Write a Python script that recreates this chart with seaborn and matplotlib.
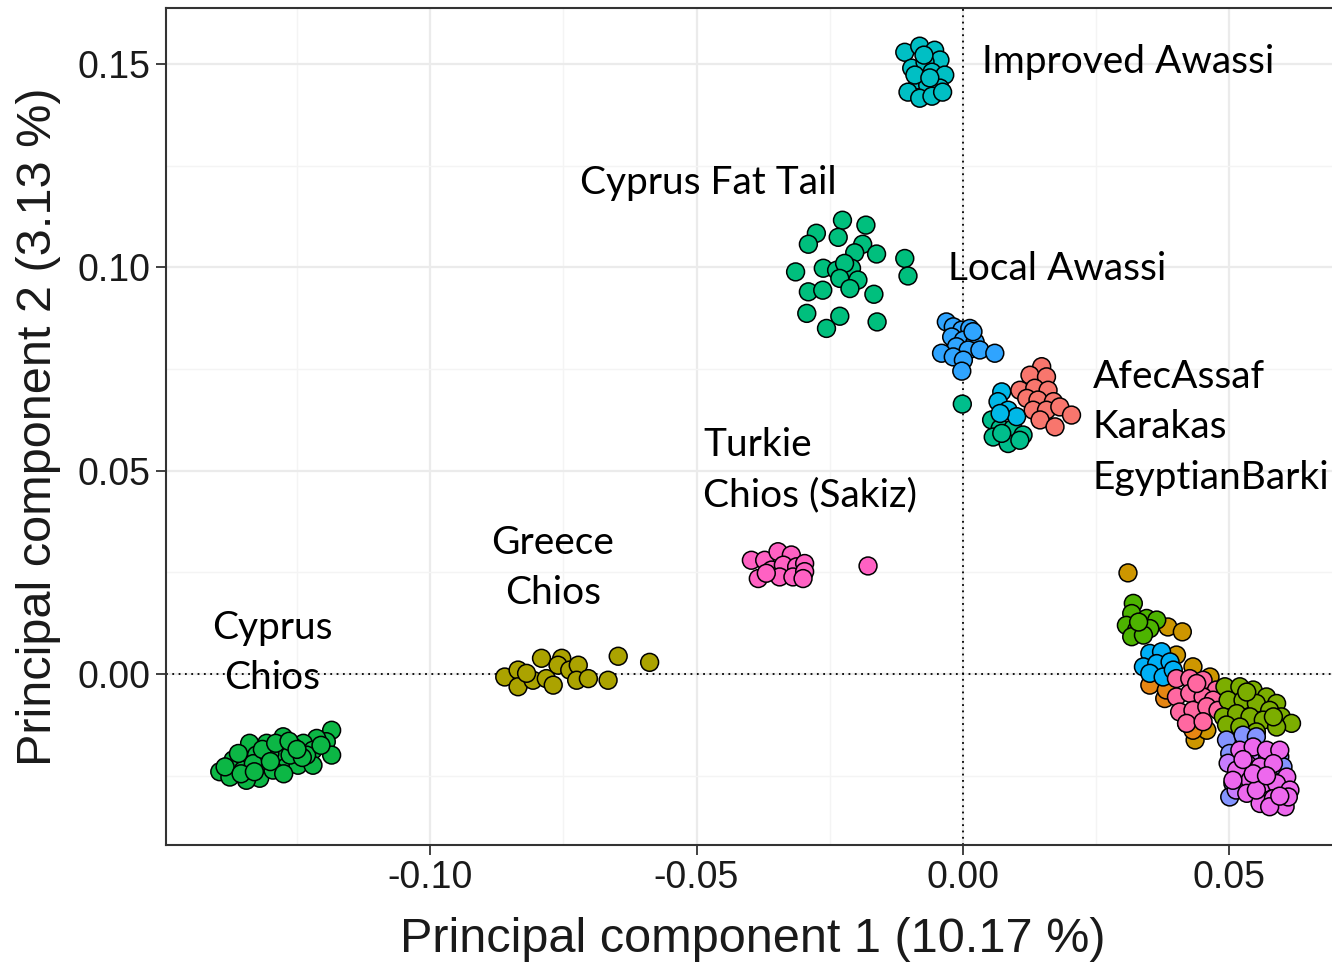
import numpy as np
import pandas as pd
import seaborn as sns
import matplotlib.pyplot as plt
from matplotlib.ticker import MultipleLocator


### PCA coordinates per population
improved_awassi_pc1 = [-0.0109, -0.0081, -0.0053, -0.0043, -0.0096, -0.0071, -0.0058, -0.0034, -0.0085,
                       -0.0066, -0.0043, -0.0103, -0.0081, -0.0058, -0.0038, -0.0090, -0.0062, -0.0073]
improved_awassi_pc2 = [0.1529, 0.1544, 0.1534, 0.1510, 0.1490, 0.1505, 0.1480, 0.1473, 0.1461,
                       0.1448, 0.1441, 0.1431, 0.1416, 0.1421, 0.1431, 0.1473, 0.1466, 0.1522]

fat_tail_pc1 = [-0.0226, -0.0182, -0.0275, -0.0290, -0.0234, -0.0188, -0.0162, -0.0203, -0.0109,
                -0.0103, -0.0314, -0.0262, -0.0237, -0.0209, -0.0222, -0.0231, -0.0197, -0.0212,
                -0.0290, -0.0263, -0.0167, -0.0293, -0.0231, -0.0256, -0.0161]
fat_tail_pc2 = [0.1116, 0.1104, 0.1084, 0.1057, 0.1074, 0.1057, 0.1033, 0.1036, 0.1022,
                0.0979, 0.0989, 0.0998, 0.0993, 0.0998, 0.1010, 0.0973, 0.0969, 0.0948,
                0.0940, 0.0944, 0.0934, 0.0887, 0.0880, 0.0850, 0.0866]

local_awassi_pc1 = [-0.0031, -0.0018, -0.0002, 0.0013, -0.0021, 0.0001, 0.0023, 0.0019,
                    -0.0012, 0.0010, 0.0032, 0.0060, -0.0040, -0.0018, 0.0001, -0.0002]
local_awassi_pc2 = [0.0866, 0.0854, 0.0846, 0.0850, 0.0829, 0.0821, 0.0817, 0.0842,
                    0.0805, 0.0797, 0.0797, 0.0789, 0.0789, 0.0780, 0.0772, 0.0745]

afec_pc1 = [0.0148, 0.0126, 0.0157, 0.0107, 0.0135, 0.0160, 0.0120, 0.0141, 0.0170,
            0.0132, 0.0157, 0.0182, 0.0204, 0.0145, 0.0173]
afec_pc2 = [0.0756, 0.0735, 0.0731, 0.0698, 0.0703, 0.0698, 0.0678, 0.0674, 0.0670,
            0.0649, 0.0649, 0.0657, 0.0637, 0.0625, 0.0608]

karakas_pc1 = [0.0073, 0.0066, 0.0085, 0.0101, 0.0070]
karakas_pc2 = [0.0694, 0.0670, 0.0649, 0.0633, 0.0641]

barki_pc1 = [0.0054, 0.0070, 0.0094, 0.0113, 0.0057, 0.0085, 0.0107, 0.0073, -0.0001]
barki_pc2 = [0.0625, 0.0604, 0.0604, 0.0588, 0.0583, 0.0567, 0.0575, 0.0592, 0.0664]

turkie_pc1 = [-0.0397, -0.0372, -0.0347, -0.0322, -0.0384, -0.0359, -0.0337, -0.0312,
              -0.0297, -0.0344, -0.0319, -0.0297, -0.0300, -0.0369, -0.0178]
turkie_pc2 = [0.0280, 0.0280, 0.0301, 0.0293, 0.0235, 0.0256, 0.0268, 0.0264,
              0.0272, 0.0239, 0.0239, 0.0252, 0.0235, 0.0248, 0.0266]

greece_pc1 = [-0.0860, -0.0835, -0.0835, -0.0791, -0.0807, -0.0782, -0.0753, -0.0760, -0.0769,
              -0.0738, -0.0722, -0.0725, -0.0703, -0.0666, -0.0647, -0.0588, -0.0819]
greece_pc2 = [-0.0007, 0.0010, -0.0031, 0.0039, -0.0015, -0.0011, 0.0039, 0.0022, -0.0027,
              0.0010, 0.0022, -0.0015, -0.0011, -0.0015, 0.0044, 0.0029, 0.0002]

cyprus_chios_pc1 = [-0.1185, -0.1195, -0.1185, -0.1213, -0.1238, -0.1220, -0.1276, -0.1257,
                    -0.1288, -0.1307, -0.1339, -0.1326, -0.1307, -0.1282, -0.1270, -0.1248,
                    -0.1220, -0.1370, -0.1395, -0.1376, -0.1351, -0.1332, -0.1320, -0.1295,
                    -0.1345, -0.1385, -0.1360, -0.1263, -0.1232, -0.1301,
                    -0.1315, -0.1290, -0.1265, -0.1240, -0.1355, -0.1330, -0.1300, -0.1250,
                    -0.1205, -0.1275]
cyprus_chios_pc2 = [-0.0138, -0.0166, -0.0199, -0.0158, -0.0170, -0.0187, -0.0154, -0.0179,
                    -0.0187, -0.0170, -0.0170, -0.0199, -0.0216, -0.0203, -0.0228, -0.0224,
                    -0.0224, -0.0211, -0.0240, -0.0253, -0.0236, -0.0220, -0.0256, -0.0236,
                    -0.0261, -0.0228, -0.0195, -0.0199, -0.0199, -0.0195,
                    -0.0185, -0.0170, -0.0165, -0.0205, -0.0245, -0.0240, -0.0215, -0.0185,
                    -0.0175, -0.0245]

# breeds crowded in the lower right corner
gold_pc1 = [0.0310, 0.0385, 0.0412, 0.0401, 0.0432, 0.0464, 0.0436, 0.0458, 0.0420]
gold_pc2 = [0.0249, 0.0116, 0.0104, 0.0047, 0.0018, -0.0007, -0.0162, -0.0138, -0.0121]

green_pc1 = [0.0320, 0.0317, 0.0345, 0.0364, 0.0307, 0.0326, 0.0351, 0.0317, 0.0339, 0.0330]
green_pc2 = [0.0174, 0.0149, 0.0137, 0.0133, 0.0120, 0.0108, 0.0112, 0.0092, 0.0096, 0.0128]

blue_pc1 = [0.0351, 0.0373, 0.0339, 0.0364, 0.0389, 0.0351, 0.0376, 0.0395]
blue_pc2 = [0.0051, 0.0055, 0.0018, 0.0026, 0.0030, 0.0002, -0.0007, 0.0010]

orange_pc1 = [0.0351, 0.0379, 0.0382, 0.0432]
orange_pc2 = [-0.0027, -0.0060, -0.0039, -0.0138]

rose_pc1 = [0.0401, 0.0426, 0.0451, 0.0476, 0.0401, 0.0426, 0.0451, 0.0470, 0.0407,
            0.0432, 0.0458, 0.0479, 0.0420, 0.0451, 0.0439]
rose_pc2 = [-0.0011, -0.0011, -0.0015, -0.0039, -0.0056, -0.0047, -0.0056, -0.0064, -0.0093,
            -0.0089, -0.0080, -0.0089, -0.0121, -0.0117, -0.0023]

olive_pc1 = [0.0492, 0.0520, 0.0545, 0.0570, 0.0589, 0.0498, 0.0526, 0.0551, 0.0576, 0.0598,
             0.0617, 0.0489, 0.0514, 0.0539, 0.0564, 0.0589, 0.0495, 0.0520, 0.0551, 0.0533, 0.0583]
olive_pc2 = [-0.0031, -0.0031, -0.0039, -0.0056, -0.0072, -0.0064, -0.0064, -0.0072, -0.0089, -0.0105,
             -0.0121, -0.0105, -0.0097, -0.0105, -0.0113, -0.0130, -0.0125, -0.0130, -0.0142, -0.0044, -0.0105]

lavender_pc1 = [0.0495, 0.0526, 0.0551, 0.0501, 0.0507, 0.0501, 0.0595, 0.0601, 0.0526]
lavender_pc2 = [-0.0162, -0.0150, -0.0154, -0.0195, -0.0269, -0.0302, -0.0203, -0.0228, -0.0253]

purple_pc1 = [0.0498, 0.0513, 0.0539]
purple_pc2 = [-0.0219, -0.0285, -0.0204]

magenta_pc1 = [0.0520, 0.0545, 0.0570, 0.0595, 0.0533, 0.0558, 0.0583, 0.0608, 0.0514, 0.0539, 0.0564,
               0.0589, 0.0614, 0.0533, 0.0558, 0.0583, 0.0605, 0.0507, 0.0551, 0.0576, 0.0611,
               0.0545, 0.0570, 0.0595, 0.0526]
magenta_pc2 = [-0.0187, -0.0179, -0.0187, -0.0187, -0.0220, -0.0228, -0.0220, -0.0253, -0.0236, -0.0261, -0.0269,
               -0.0269, -0.0285, -0.0293, -0.0318, -0.0306, -0.0326, -0.0261, -0.0285, -0.0326, -0.0302,
               -0.0245, -0.0250, -0.0300, -0.0210]

groups = {
    'Improved Awassi': (improved_awassi_pc1, improved_awassi_pc2, '#00BFC4'),
    'Cyprus Fat Tail': (fat_tail_pc1, fat_tail_pc2, '#00BF7D'),
    'Local Awassi': (local_awassi_pc1, local_awassi_pc2, '#2FA4FF'),
    'EgyptianBarki': (barki_pc1, barki_pc2, '#00BE8C'),
    'Karakas': (karakas_pc1, karakas_pc2, '#00B8E7'),
    'AfecAssaf': (afec_pc1, afec_pc2, '#F8766D'),
    'Turkie Chios': (turkie_pc1, turkie_pc2, '#FF61C3'),
    'Greece Chios': (greece_pc1, greece_pc2, '#ABA300'),
    'Cyprus Chios': (cyprus_chios_pc1, cyprus_chios_pc2, '#0CB745'),
    'gold': (gold_pc1, gold_pc2, '#CD9600'),
    'green': (green_pc1, green_pc2, '#4DB400'),
    'orange': (orange_pc1, orange_pc2, '#E68613'),
    'blue': (blue_pc1, blue_pc2, '#00B0F6'),
    'rose': (rose_pc1, rose_pc2, '#FF68A1'),
    'olive': (olive_pc1, olive_pc2, '#7CAE00'),
    'lavender': (lavender_pc1, lavender_pc2, '#8494FF'),
    'purple': (purple_pc1, purple_pc2, '#C77CFF'),
    'magenta': (magenta_pc1, magenta_pc2, '#ED68ED'),
}

frames = []
for name, (pc1, pc2, col) in groups.items():
    frames.append(pd.DataFrame({'PC1': pc1, 'PC2': pc2, 'pop': name}))
df = pd.concat(frames, ignore_index=True)
palette = {name: v[2] for name, v in groups.items()}


### Plot
sns.set_style("whitegrid")
plt.rcParams['font.family'] = ['Liberation Sans', 'DejaVu Sans']

fig = plt.figure(figsize=(13.32, 9.68), dpi=100)
ax = fig.add_axes([0.1246, 0.1271, 0.8814, 0.8647])

sns.scatterplot(data=df, x='PC1', y='PC2', hue='pop', palette=palette, s=165,
                edgecolor='black', linewidth=1.1, legend=False, ax=ax, zorder=3)

ax.axhline(0, color='black', linestyle=(0, (1, 2.5)), linewidth=1.3, zorder=2)
ax.axvline(0, color='black', linestyle=(0, (1, 2.5)), linewidth=1.3, zorder=2)

ax.set_xlim(-0.1496, 0.0708)
ax.set_ylim(-0.0420, 0.1638)
ax.xaxis.set_minor_locator(MultipleLocator(0.025))
ax.yaxis.set_minor_locator(MultipleLocator(0.025))
ax.set_xticks([-0.10, -0.05, 0.00, 0.05])
ax.set_xticklabels(['-0.10', '-0.05', '0.00', '0.05'])
ax.set_yticks([0.00, 0.05, 0.10, 0.15])
ax.set_yticklabels(['0.00', '0.05', '0.10', '0.15'])

ax.grid(which='major', color='#EBEBEB', linewidth=1.6, zorder=0)
ax.grid(which='minor', color='#F4F4F4', linewidth=1.0, zorder=0)
ax.set_axisbelow(True)
for sp in ax.spines.values():
    sp.set_color('#333333')
    sp.set_linewidth(1.5)

ax.tick_params(axis='both', which='major', length=7, width=1.3, color='#333333',
               labelsize=27, labelcolor='#1A1A1A', pad=4, bottom=True, left=True)
ax.tick_params(axis='both', which='minor', length=0)

ax.set_xlabel('Principal component 1 (10.17 %)', fontsize=35, labelpad=15, color='#1A1A1A')
ax.set_ylabel('Principal component 2 (3.13 %)', fontsize=35, labelpad=12, color='#1A1A1A')

### Population labels
lab = dict(fontsize=28, family=['Lato', 'DejaVu Sans'], color='black', linespacing=1.5, zorder=4)
ax.text(0.0036, 0.1505, 'Improved Awassi', ha='left', va='center', **lab)
ax.text(-0.0719, 0.1207, 'Cyprus Fat Tail', ha='left', va='center', **lab)
ax.text(-0.0028, 0.0996, 'Local Awassi', ha='left', va='center', **lab)
ax.text(0.0244, 0.0607, 'AfecAssaf\nKarakas\nEgyptianBarki', ha='left', va='center', **lab)
ax.text(-0.0488, 0.0502, 'Turkie\nChios (Sakiz)', ha='left', va='center', **lab)
ax.text(-0.0770, 0.0261, 'Greece\nChios', ha='center', va='center', **lab)
ax.text(-0.1297, 0.0052, 'Cyprus\nChios', ha='center', va='center', **lab)

plt.savefig('out.png', dpi=100)
